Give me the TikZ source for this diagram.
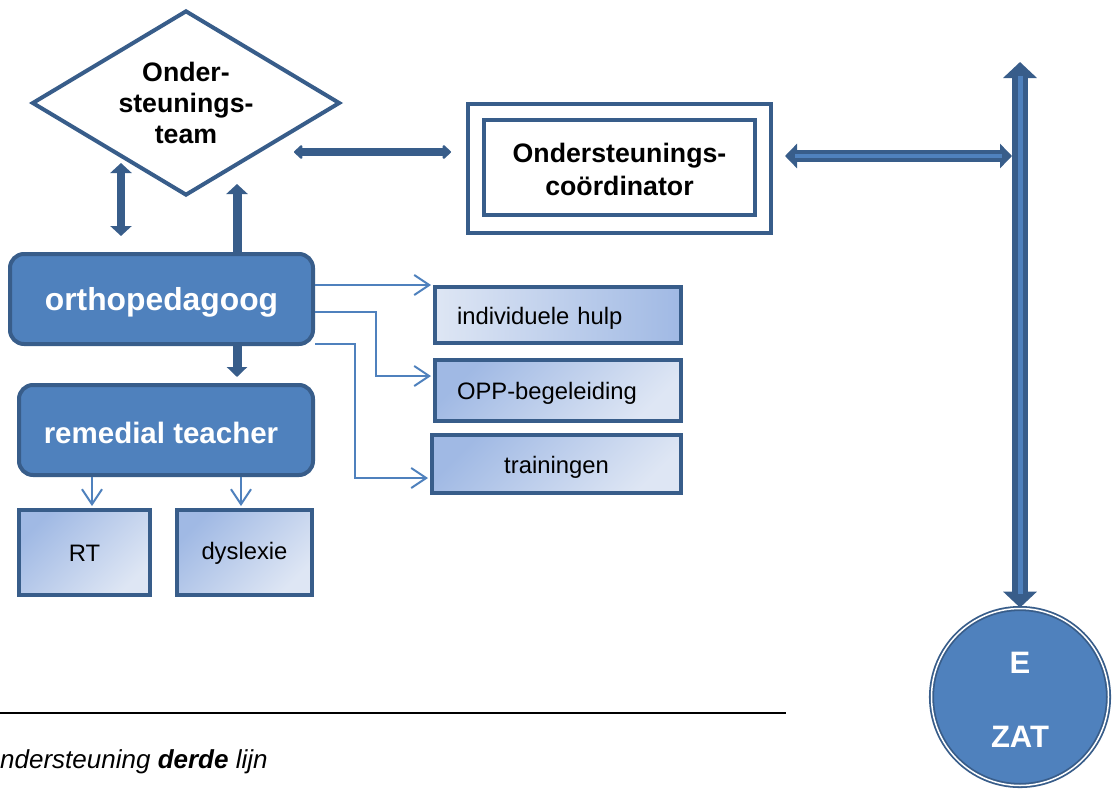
\documentclass[tikz,border=0pt]{standalone}
\usepackage{fontspec}
\setmainfont{Liberation Sans}
\usetikzlibrary{shapes.geometric, arrows.meta}
\definecolor{dk}{RGB}{56,93,138}
\definecolor{md}{RGB}{79,129,189}
\definecolor{lt}{RGB}{222,230,244}
\definecolor{gr}{RGB}{160,185,228}
\newcommand{\lowr}[2][3pt]{\raisebox{-#1}[\height][\depth]{#2}}
\begin{document}
\begin{tikzpicture}[x=1pt,y=-1pt,
  bluebox/.style={draw=dk, line width=4, fill=md, rounded corners=14, text=white, inner sep=0},
  subbox/.style={draw=dk, line width=4, inner sep=0, font=\fontsize{23.8}{28}\selectfont},
  diag/.style={top color=gr, bottom color=lt, shading angle=45},
  frame/.style={draw=dk, line width=4.5, inner sep=0},
  link/.style={draw=md, line width=2, -{Straight Barb[length=15,width=20]}, shorten >=2},
]
\useasboundingbox (0,0) rectangle (1113,792);

% nodes
\node[draw=dk, line width=4, shape=diamond, aspect=1.66, minimum width=308, minimum height=185,
      inner sep=0, align=center, font=\fontsize{26.7}{31}\selectfont\bfseries] (ot) at (186,103)
      {Onder-\\steunings-\\team};
\node[frame, minimum width=303, minimum height=129] (co) at (619.5,168.5) {};
\node[frame, minimum width=271, minimum height=95, align=center,
      font=\fontsize{26.7}{33}\selectfont\bfseries] (ci) at (619.5,167.5)
      {\lowr[2pt]{Ondersteunings-}\\\lowr[2pt]{coördinator}};
\node[bluebox, minimum width=303, minimum height=90, font=\fontsize{31.8}{36}\selectfont\bfseries] (or) at (161.5,299) {\lowr{orthopedagoog}};
\node[bluebox, minimum width=294, minimum height=90, font=\fontsize{29.5}{34}\selectfont\bfseries] (rem) at (166,430) {\hspace*{-10pt}\lowr{remedial teacher}};
\node[subbox, diag, minimum width=131, minimum height=85] (rt) at (84.5,552.5) {\lowr[1pt]{RT}};
\node[subbox, diag, minimum width=135, minimum height=85] (dy) at (244.5,552.5) {\lowr[1pt]{dyslexie}};
\node[subbox, left color=lt, right color=gr, minimum height=56, text width=202, inner xsep=22, align=left] (ind) at (558,315) {\lowr{individuele hulp}};
\node[subbox, diag, minimum height=61, text width=202, inner xsep=22, align=left] (opp) at (558,390.5) {\lowr{OPP-begeleiding}};
\node[subbox, diag, minimum width=249, minimum height=58] (tr) at (556.5,464) {\lowr{trainingen}};
\node[circle, fill=md, draw=dk, line width=1.8, double=white, double distance=1.5, minimum size=177,
      text=white, align=center, inner sep=0, font=\fontsize{31}{74}\selectfont\bfseries] (zat) at (1020,697)
      {\lowr{E}\\\lowr{ZAT}};

% free ends
\coordinate (da) at (294,152);
\coordinate (db) at (451,152);
\coordinate (la) at (121,163);
\coordinate (lb) at (121,236);
\coordinate (ua) at (237,184);
\coordinate (ha) at (785,156);
\coordinate (hb) at (1012,156);
\coordinate (vt) at (1020,62);

% connectors
\draw[dk, line width=8, {Triangle[width=16,length=9,round]}-{Triangle[width=16,length=9,round]}] (da) -- (db);
\draw[dk, line width=8, {Triangle[width=21,length=10]}-{Triangle[width=21,length=10]}] (la) -- (lb);
\draw[dk, line width=9, -{Triangle[width=21,length=10]}] ([xshift=75.5]or.north) -- (ua);
\draw[dk, line width=9, -{Triangle[width=20,length=10]}, shorten >=6] ([xshift=75.5]or.south) -- ([xshift=71]rem.north);

\draw[dk, line width=12, {Triangle[width=24,length=12]}-{Triangle[width=24,length=12]},
      postaction={draw=md, line width=4, arrows=-, shorten <=10, shorten >=10}] (ha) -- (hb);
\draw[dk, line width=16, {Triangle[width=33,length=16]}-{Triangle[width=33,length=16]},
      postaction={draw=md, line width=5, arrows=-, shorten <=14, shorten >=14}] (vt) -- (zat.north);

\draw[link] (or.east |- ind.north west) -- (ind.north west);
\draw[link] ([yshift=-13]or.east) -- ++(61,0) |- ([yshift=14.5]opp.west);
\draw[link] ([yshift=-45]or.east) -- ++(40,0) |- ([yshift=-14]tr.west);
\draw[link] ([xshift=7.5]rt.north |- rem.south) -- ([xshift=7.5]rt.north);
\draw[link] ([xshift=-3.5]dy.north |- rem.south) -- ([xshift=-3.5]dy.north);

% caption
\draw[line width=2] (0,713) -- (786,713);
\node[anchor=base west, inner sep=0, font=\fontsize{26}{30}\selectfont\itshape] (cap) at (0,768)
      {ndersteuning \textbf{derde} lijn};
\end{tikzpicture}
\end{document}
